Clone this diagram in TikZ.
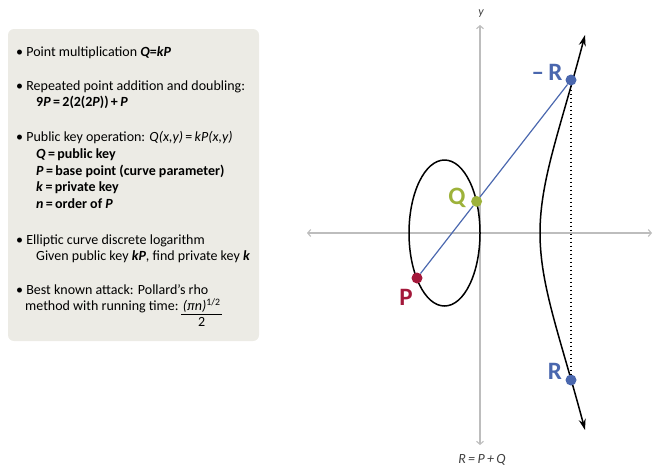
\documentclass[tikz,border=0pt]{standalone}
\usepackage{fontspec}
\setmainfont{Carlito}
\usetikzlibrary{arrows.meta, calc}

\definecolor{panelgray}{HTML}{ECEBE5}
\definecolor{axisgray}{HTML}{BDBDBD}
\definecolor{pointred}{HTML}{A3183A}
\definecolor{pointgreen}{HTML}{9DB23A}
\definecolor{pointblue}{HTML}{4A67AE}
\newcommand{\bv}[1]{\textbf{\textit{#1}}}

\begin{document}
\begin{tikzpicture}[
        x=1pt, y=-1pt,
        >=Stealth,
        line/.style={anchor=base west, inner sep=0pt, font=\fontsize{14}{16}\selectfont},
        axis/.style={draw=axisgray, line width=1.1pt, {Straight Barb[length=3pt,width=7pt]}-{Straight Barb[length=3pt,width=7pt]}},
        curve/.style={draw=black, line width=1.5pt},
        dot/.style={circle, fill=#1, inner sep=0pt, minimum size=11pt},
        ptlabel/.style={font=\fontsize{25}{25}\selectfont\bfseries, text=#1, inner sep=0pt}
    ]
        \useasboundingbox (0,0) rectangle (660,467);
        % text panel
        \node[fill=panelgray, rounded corners=6pt, minimum width=251pt, minimum height=312pt] (panel) at (133.5,185) {};
        \node[line] (l1) at (16,56.5) {•\ Point multiplication \bv{Q}\textbf{=}\bv{kP}};
        \node[line] (l2) at (16,90.7) {•\ Repeated point addition and doubling:};
        \node[line] (l3) at (36,106.7) {\textbf{9\textit{P}\,=\,2(2(2\textit{P}))\,+\,\textit{P}}};
        \node[line] (l4) at (16,141.7) {•\ Public key operation: \textit{Q(x,y)}\,=\,\textit{kP(x,y)}};
        \node[line] (l5) at (36,158.3) {\textbf{\textit{Q}\,=\,public key}};
        \node[line] (l6) at (36,175) {\textbf{\textit{P}\,=\,base point (curve parameter)}};
        \node[line] (l7) at (36,191.7) {\textbf{\textit{k}\,=\,private key}};
        \node[line] (l8) at (36,208) {\textbf{\textit{n}\,=\,order of \textit{P}}};
        \node[line] (l9) at (16,244) {•\ Elliptic curve discrete logarithm};
        \node[line] (l10) at (36,260) {Given public key \bv{kP}, find private key \bv{k}};
        \node[line] (l11) at (16,294) {•\ Best known attack: Pollard's rho};
        \node[line] (l12) at (25,310.7) {method with running time:\,};
        \node[line, inner sep=1.5pt] (num) at (l12.base east) {\textit{(πn)}\textsuperscript{1/2}};
        \draw[line width=0.6pt] (num.south west) -- (num.south east);
        \node[anchor=north, inner sep=3pt, font=\fontsize{14}{16}\selectfont] (den) at (num.south) {2};
        % axes
        \coordinate (xl) at (307,233);
        \coordinate (xr) at (652,233);
        \coordinate (yt) at (480,25);
        \coordinate (yb) at (480,445);
        \draw[axis] (xl) -- (xr);
        \draw[axis] (yb) -- (yt);
        \node[font=\fontsize{12}{12}\selectfont\itshape, text=black!75] (ylab) at (481,14) {y};
        \node[font=\fontsize{14}{14}\selectfont\itshape, text=black!75] (sum) at (482,460) {R\,=\,P\,+\,Q};
        % curve
        \draw[curve] (444.5,233) ellipse [x radius=35.5pt, y radius=73pt];
        \draw[curve, {Stealth[length=11pt,width=7pt]}-{Stealth[length=11pt,width=7pt]}]
            (585,35) .. controls (560,130) and (540,180) .. (540,233)
            .. controls (540,286) and (560,336) .. (585,430);
        % points
        \node[dot=pointred] (P) at (417,278) {};
        \node[dot=pointblue] (mR) at (571,80) {};
        \node[dot=pointblue] (R) at (571,380) {};
        \node[dot=pointgreen] (Q) at ($(P)!0.387!(mR)$) {};
        \draw[pointblue, line width=1.2pt] (P) -- (Q) -- (mR);
        \draw[line width=1.5pt, dash pattern=on 1.5pt off 2.5pt] (mR) -- (R);
        \node[ptlabel=pointred] (Plab) at (406,297) {P};
        \node[ptlabel=pointgreen] (Qlab) at (457,198) {Q};
        \node[ptlabel=pointblue] (mRlab) at (547,72) {–\,R};
        \node[ptlabel=pointblue] (Rlab) at (555,371) {R};
    \end{tikzpicture}
\end{document}
